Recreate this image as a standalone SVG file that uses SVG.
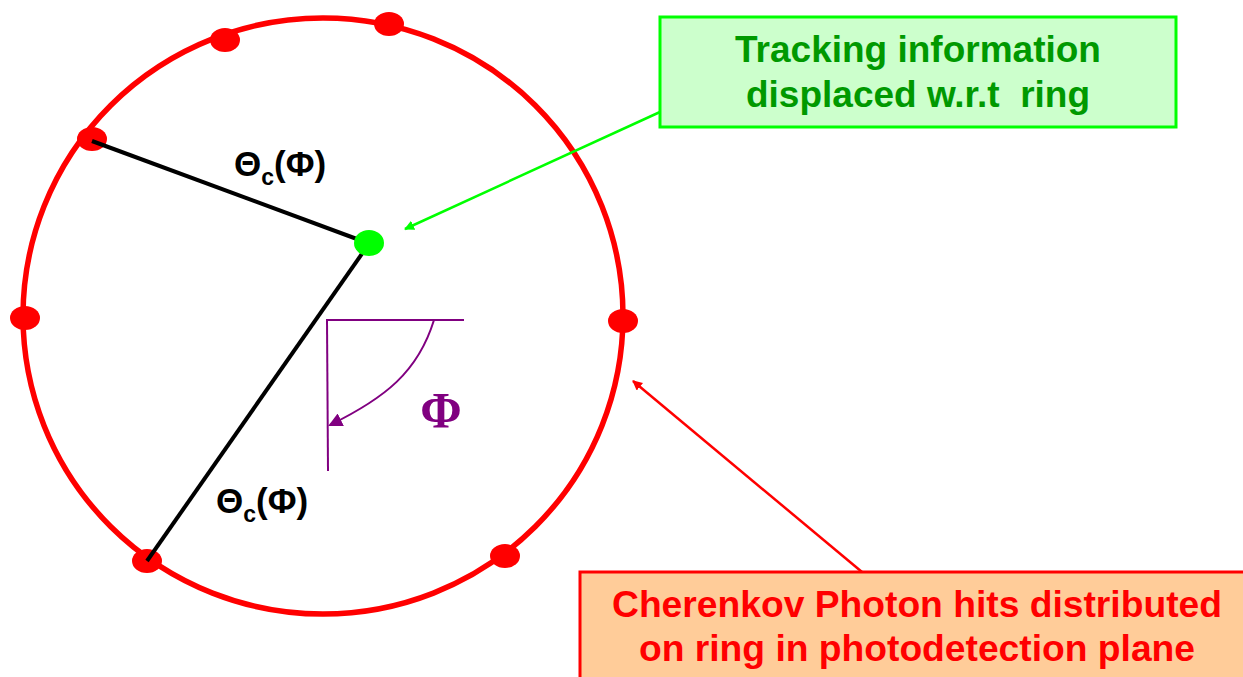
<svg xmlns="http://www.w3.org/2000/svg" width="1243" height="677" viewBox="0 0 1243 677">
<style>
.hit{fill:#ff0000}
.lbl{font-family:"Liberation Sans",Arial,sans-serif;font-weight:bold;fill:#000}
.gt{font-family:"Liberation Sans",Arial,sans-serif;font-weight:bold;font-size:37px;fill:#009900;text-anchor:middle}
.rt{font-family:"Liberation Sans",Arial,sans-serif;font-weight:bold;font-size:37px;fill:#ff0000;text-anchor:middle}
</style>
<defs>
<marker id="ag" markerWidth="10" markerHeight="10" refX="9" refY="5" orient="auto" markerUnits="userSpaceOnUse" viewBox="0 0 10 10"><path d="M0,0 L10,5 L0,10 z" fill="#00ff00"/></marker>
<marker id="ar" markerWidth="10" markerHeight="10" refX="9" refY="5" orient="auto" markerUnits="userSpaceOnUse" viewBox="0 0 10 10"><path d="M0,0 L10,5 L0,10 z" fill="#ff0000"/></marker>
<marker id="ap" markerWidth="14" markerHeight="14" refX="12" refY="7" orient="auto" markerUnits="userSpaceOnUse" viewBox="0 0 14 14"><path d="M0,0 L14,7 L0,14 z" fill="#800080"/></marker>
</defs>
<rect width="1243" height="677" fill="#fff"/>
<g id="ring">
<ellipse cx="323" cy="316" rx="300" ry="298" fill="none" stroke="#ff0000" stroke-width="5.5"/>
<ellipse class="hit" cx="225" cy="40" rx="15" ry="12"/>
<ellipse class="hit" cx="389" cy="24" rx="15" ry="12"/>
<ellipse class="hit" cx="92" cy="139" rx="15" ry="12"/>
<ellipse class="hit" cx="25" cy="318" rx="15" ry="12"/>
<ellipse class="hit" cx="623" cy="321" rx="15" ry="12"/>
<ellipse class="hit" cx="147" cy="561" rx="15" ry="12"/>
<ellipse class="hit" cx="505" cy="556" rx="15" ry="12"/>
</g>
<g id="radii">
<line x1="92" y1="141" x2="365" y2="242" stroke="#000" stroke-width="4"/>
<line x1="366" y1="248" x2="147" y2="561" stroke="#000" stroke-width="4"/>
<text class="lbl" x="234" y="176" font-size="35">Θ<tspan font-size="23" dy="9">c</tspan><tspan dy="-9">(Φ)</tspan></text>
<text class="lbl" x="216" y="513" font-size="35">Θ<tspan font-size="23" dy="9">c</tspan><tspan dy="-9">(Φ)</tspan></text>
</g>
<g id="track">
<ellipse cx="369" cy="243" rx="15" ry="13" fill="#00ff00"/>
</g>
<g id="angle">
<line x1="326" y1="320" x2="464" y2="320" stroke="#800080" stroke-width="2"/>
<line x1="327" y1="320" x2="328" y2="471" stroke="#800080" stroke-width="2"/>
<path d="M434,320 C418,372 385,398 330,425" fill="none" stroke="#800080" stroke-width="2" marker-end="url(#ap)"/>
<text x="441" y="427" font-family="'Liberation Serif','Times New Roman',serif" font-weight="bold" font-size="50" fill="#800080" text-anchor="middle">Φ</text>
</g>
<g id="tracking-box">
<rect x="660" y="17" width="516" height="110" fill="#ccffcc" stroke="#00ff00" stroke-width="3"/>
<text class="gt" x="918" y="62">Tracking information</text>
<text class="gt" x="918" y="107" xml:space="preserve">displaced w.r.t  ring</text>
</g>
<g id="photon-box">
<rect x="580" y="572" width="668" height="110" fill="#ffcc99" stroke="#ff0000" stroke-width="3"/>
<text class="rt" x="917" y="617" textLength="610" lengthAdjust="spacingAndGlyphs">Cherenkov Photon hits distributed</text>
<text class="rt" x="917" y="661" textLength="556" lengthAdjust="spacingAndGlyphs">on ring in photodetection plane</text>
</g>
<g id="connectors">
<line x1="660" y1="112" x2="405" y2="229" stroke="#00ff00" stroke-width="2.5" marker-end="url(#ag)"/>
<line x1="862" y1="572" x2="633" y2="381" stroke="#ff0000" stroke-width="2.5" marker-end="url(#ar)"/>
</g>
</svg>
